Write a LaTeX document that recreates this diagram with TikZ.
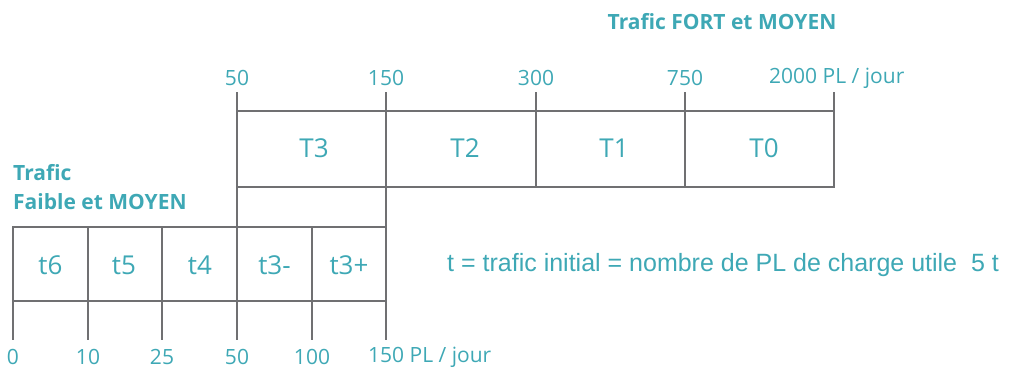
\documentclass[tikz,border=0pt]{standalone}
\usepackage{fontspec}
\setmainfont{Open Sans}
\newfontfamily\arialf{Liberation Sans}
\definecolor{teal1}{RGB}{62,168,181}
\definecolor{gline}{RGB}{112,112,114}
\begin{document}
\begin{tikzpicture}[x=1pt,y=-1pt,
  cellline/.style={draw=gline,line width=1.9pt},
  tickline/.style={draw=gline,line width=1.1pt},
  num/.style={text=teal1,font=\fontsize{21}{24}\selectfont,inner sep=0pt},
  cell/.style={text=teal1,font=\fontsize{26}{29}\selectfont,inner sep=0pt},
  ttl/.style={text=teal1,font=\bfseries\fontsize{21}{24}\selectfont,inner sep=0pt}]
\useasboundingbox (0,0) rectangle (1014,369);
% top row
\foreach \x/\n in {237/a,386/b,536/c,685/d,834/e}{
  \coordinate (tt\n) at (\x,92);
  \coordinate (tb\n) at (\x,111);
  \draw[tickline] (tt\n) -- (tb\n);
}
\draw[cellline] (237,111) rectangle (834,187);
\foreach \x in {386,536,685} \draw[cellline] (\x,111) -- (\x,187);
\draw[cellline] (237,187) rectangle (386,227);
% bottom row
\draw[cellline] (13,227) rectangle (386,301);
\foreach \x in {88,162,237,312} \draw[cellline] (\x,227) -- (\x,301);
\foreach \x/\n in {13/a,88/b,162/c,237/d,312/e,386/f}{
  \coordinate (bt\n) at (\x,301);
  \coordinate (bb\n) at (\x,340);
  \draw[tickline] (bt\n) -- (bb\n);
}
% cell labels
\node[cell] (T3) at (314,148) {T3};
\node[cell] (T2) at (465,148) {T2};
\node[cell] (T1) at (614,148) {T1};
\node[cell] (T0) at (764,148) {T0};
\node[cell] (t6) at (50.5,265) {t6};
\node[cell] (t5) at (124,265) {t5};
\node[cell] (t4) at (200,265) {t4};
\node[cell] (t3m) at (274.5,265) {t3-};
\node[cell] (t3p) at (349,265) {t3+};
% top numbers
\node[num] (n50) at (237,78) {50};
\node[num] (n150) at (386,78) {150};
\node[num] (n300) at (536,78) {300};
\node[num] (n750) at (685,78) {750};
\node[num,anchor=west] (n2000) at (769,78) {2000 PL / jour};
% bottom numbers
\node[num] (m0) at (13,357) {0};
\node[num] (m10) at (88,357) {10};
\node[num] (m25) at (162,357) {25};
\node[num] (m50) at (237,357) {50};
\node[num] (m100) at (312,357) {100};
\node[num,anchor=west] (m150) at (368,357) {150 PL / jour};
% titles
\node[ttl] (fort) at (722,22) {Trafic FORT et MOYEN};
\node[ttl,anchor=west] (faible1) at (13,173) {Trafic};
\node[ttl,anchor=west] (faible2) at (13,202) {Faible et MOYEN};
% legend
\node[text=teal1,font=\arialf\fontsize{25}{28}\selectfont,inner sep=0pt,anchor=west] (leg) at (447,265) {t = trafic initial = nombre de PL de charge utile\ \ 5 t};
\end{tikzpicture}
\end{document}
